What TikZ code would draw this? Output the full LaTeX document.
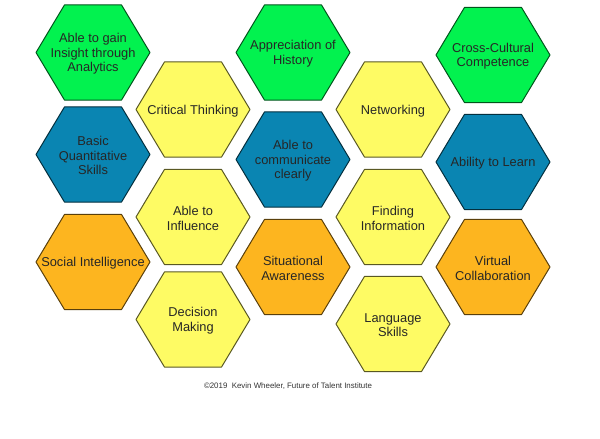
\documentclass[tikz,border=0pt]{standalone}
\usepackage{fontspec}
\setmainfont{Liberation Sans}
\usetikzlibrary{calc}

\definecolor{hexgreen}{HTML}{02F24F}
\definecolor{hexblue}{HTML}{0A85B2}
\definecolor{hexorange}{HTML}{FDB51F}
\definecolor{hexyellow}{HTML}{FEFB64}

\tikzset{
  hexlabel/.style={align=center, inner sep=0pt, font=\fontsize{7.3}{8.25}\selectfont, text=black!85},
  hexcell/.style={line width=0.2mm, draw=#1!35!black, fill=#1},
  creditline/.style={inner sep=0pt, font=\fontsize{4.5}{6}\selectfont, text=black!80}
}

\begin{document}
\begin{tikzpicture}[x=0.02cm, y=-0.02cm]

% Page size, in pixels of the reference
\useasboundingbox (0,0) rectangle (600,439);

% Hexagons: name / centre x / centre y / colour / text
\foreach \n/\x/\y/\c/\t in {
  analytics/93/52.5/hexgreen/{Able to gain\\Insight through\\Analytics},
  quant/93/154.5/hexblue/{Basic\\Quantitative\\Skills},
  social/93/262/hexorange/{Social Intelligence},
  critical/193/109.5/hexyellow/{Critical Thinking},
  influence/193/217/hexyellow/{Able to\\Influence},
  decision/193/319.5/hexyellow/{Decision\\Making},
  history/293/52.5/hexgreen/{Appreciation of\\History},
  communicate/293/159.5/hexblue/{Able to\\communicate\\clearly},
  situational/293/267/hexorange/{Situational\\Awareness},
  networking/393/109.5/hexyellow/{Networking},
  finding/393/217/hexyellow/{Finding\\Information},
  language/393/324/hexyellow/{Language\\Skills},
  crosscultural/493/55/hexgreen/{Cross-Cultural\\Competence},
  learn/493/162/hexblue/{Ability to Learn},
  virtual/493/267/hexorange/{Virtual\\Collaboration}} {
  \draw[hexcell=\c, line join=round] (\x,\y) ++(-57,0) -- ++(28.5,-47.6) -- ++(57,0) -- ++(28.5,47.6) -- ++(-28.5,47.6) -- ++(-57,0) -- cycle;
  \node[hexlabel] (\n) at (\x,\y+1.2) {\t};
}

% Credit under the hexagons
\node[creditline] (credit) at (288,386) {©2019\ \ Kevin Wheeler, Future of Talent Institute};

\end{tikzpicture}
\end{document}
